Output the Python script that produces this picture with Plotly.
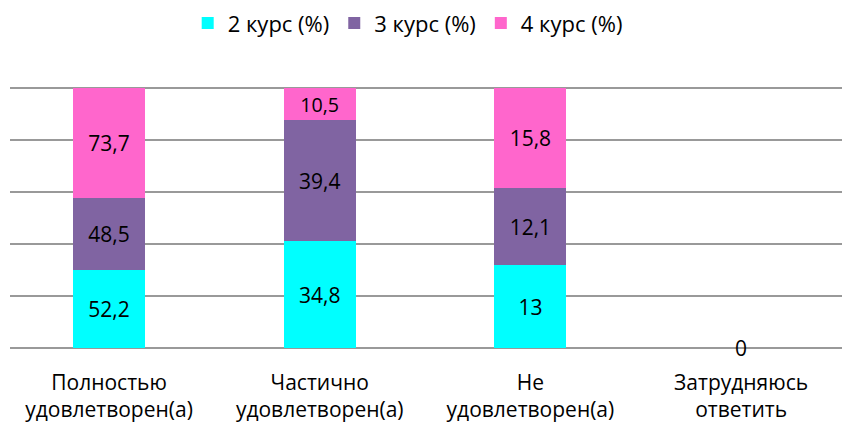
import plotly.graph_objects as go

categories = ["Полностью<br>удовлетворен(а)", "Частично<br>удовлетворен(а)",
              "Не<br>удовлетворен(а)", "Затрудняюсь<br>ответить"]
series_names = ["2 курс (%)", "3 курс (%)", "4 курс (%)"]
kurs2 = [52.2, 34.8, 13, 0]
kurs3 = [48.5, 39.4, 12.1, 0]
kurs4 = [73.7, 10.5, 15.8, 0]
colors = ["#00FFFF", "#8064A2", "#FF66CC"]

FONT = "'Open Sans', sans-serif"

def fmt(v):
    s = ("%g" % v).replace(".", ",")
    return s

fig = go.Figure()
for name, vals, col in zip(series_names, [kurs2, kurs3, kurs4], colors):
    fig.add_trace(go.Bar(
        x=categories, y=vals, name=name, marker=dict(color=col, line=dict(width=0)),
        text=[fmt(v) if v != 0 else "" for v in vals],
        textposition="inside", insidetextanchor="middle",
        textfont=dict(family=FONT, size=21, color="black"),
        hoverinfo="skip",
    ))

# zero label for the empty category
for c, a, b, d in zip(categories, kurs2, kurs3, kurs4):
    if a + b + d == 0:
        fig.add_annotation(x=c, y=0, text=fmt(a), showarrow=False,
                           font=dict(family=FONT, size=21, color="black"),
                           yanchor="middle", xanchor="center")

fig.update_layout(
    width=842, height=428,
    barmode="stack", barnorm="percent", bargap=0.658,
    margin=dict(l=10, r=0, t=87, b=79, autoexpand=False),
    paper_bgcolor="white", plot_bgcolor="white",
    font=dict(family=FONT, size=21, color="black"),
    legend=dict(orientation="h", x=0.478, xanchor="center", y=0.995, yanchor="top",
                yref="container", font=dict(family=FONT, size=22, color="black"),
                itemwidth=30, traceorder="normal"),
    showlegend=True,
)
fig.update_yaxes(range=[-0.4, 100.4], tickvals=[0, 20, 40, 60, 80, 100], showgrid=True,
                 gridcolor="#999999", gridwidth=2,
                 showticklabels=False, zeroline=False, showline=False, ticks="")
fig.update_xaxes(range=[-0.47, 3.479], showgrid=False, showline=False, ticks="",
                 ticklabelstandoff=19,
                 tickfont=dict(family=FONT, size=21, color="black"))

fig.write_html("out.html", post_script="document.body.style.margin='0';",
               config={"displayModeBar": False})
